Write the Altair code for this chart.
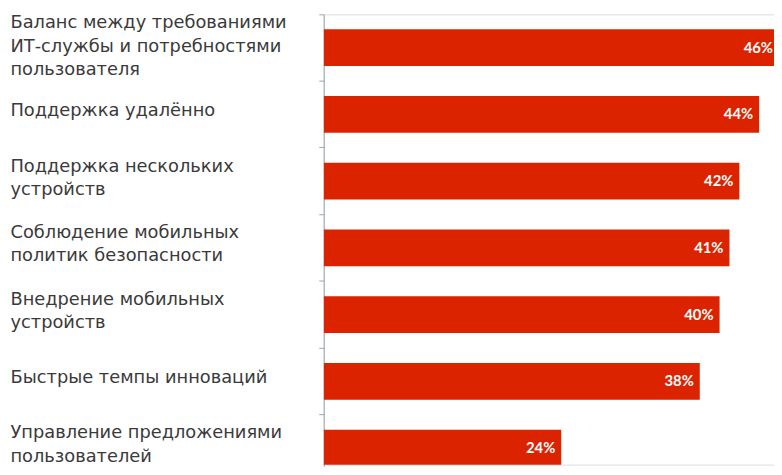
import altair as alt
import pandas as pd

categories = [
    "Баланс между требованиями\nИТ-службы и потребностями\nпользователя",
    "Поддержка удалённо",
    "Поддержка нескольких\nустройств",
    "Соблюдение мобильных\nполитик безопасности",
    "Внедрение мобильных\nустройств",
    "Быстрые темпы инноваций",
    "Управление предложениями\nпользователей",
]
values = [46, 44, 42, 41, 40, 38, 24]
labels = [f"{v}%" for v in values]

df = pd.DataFrame({"cat": categories, "val": values, "lab": labels})

BAR = "#DC2300"
LH = 23.5

y_enc = alt.Y(
    "cat:N",
    sort=categories,
    title=None,
    scale=alt.Scale(range=[0, 472], paddingInner=0.45, paddingOuter=0.225),
    axis=alt.Axis(
        labelExpr="split(datum.label, '\\n')",
        labelAlign="left",
        labelBaseline="middle",
        labelPadding=312,
        labelLimit=400,
        labelFont="DejaVu Sans",
        labelFontSize=18,
        labelLineHeight=LH,
        labelColor="#3a3a3a",
        labelOffset={
            "condition": [
                {"test": "length(split(datum.label, '\\n')) == 3", "value": -LH - 1},
                {"test": "length(split(datum.label, '\\n')) == 2", "value": -LH / 2 - 3},
            ],
            "value": -3,
        },
        bandPosition=-0.409,
        tickSize=5,
        tickColor="#9aa4ae",
        domainColor="#9aa4ae",
        grid=False,
    ),
)

x_enc = alt.X("val:Q", scale=alt.Scale(domain=[0, 45.5]), axis=None)

bars = alt.Chart(df).mark_bar(color=BAR, clip=True).encode(x=x_enc, y=y_enc)

text = alt.Chart(df).mark_text(
    align="right", baseline="middle", dx=-6, color="white",
    font="Lato", fontWeight="bold", fontSize=15,
).encode(x=x_enc, y=alt.Y("cat:N", sort=categories), text="lab:N")

chart = (
    alt.layer(bars, text)
    .properties(
        width=455,
        height=455,
        autosize=alt.AutoSizeParams(type="none"),
        padding={"left": 319, "top": 4, "right": 0, "bottom": 0},
    )
    .configure_view(stroke=None)
    .configure(background="white")
)

chart.save("out.html", embed_options={"renderer": "svg", "actions": False})
